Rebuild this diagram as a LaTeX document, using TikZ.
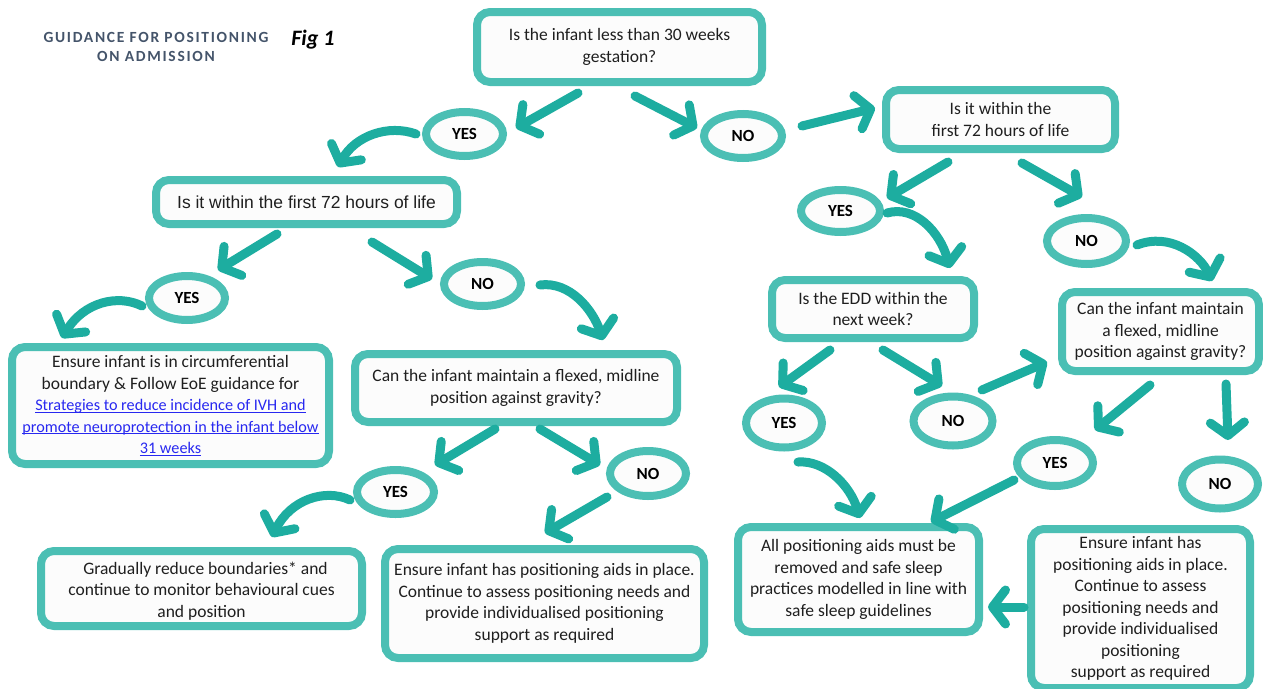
\documentclass[tikz,border=0pt]{standalone}
\usepackage{fontspec}
\setmainfont{Carlito}
\newfontfamily\arialf{Liberation Sans}
\usetikzlibrary{arrows.meta,shapes.geometric}
\definecolor{bordc}{RGB}{75,191,180}
\definecolor{arrc}{RGB}{29,173,160}
\definecolor{fillc}{RGB}{252,252,252}
\definecolor{titlec}{RGB}{68,84,106}
\definecolor{linkc}{RGB}{40,40,240}
\newcommand{\lnk}[1]{{\fontsize{16.2}{20}\selectfont\color{linkc}\setbox0\hbox{#1}\rlap{\rule[-2pt]{\wd0}{0.9pt}}\box0}}
\tikzset{
  box/.style={draw=bordc, line width=8pt, fill=fillc, rounded corners=13pt, inner sep=2pt, align=center, text=black!88, font=\fontsize{17.5}{21.5}\selectfont},
  oval/.style={draw=bordc, line width=8pt, fill=fillc, ellipse, inner sep=0pt, font=\fontsize{17}{20}\selectfont\bfseries},
  arr/.style={draw=arrc, line width=9pt, line cap=round, -{Straight Barb[length=13pt,width=34pt,line cap=round,line join=round]}}
}
\begin{document}
\begin{tikzpicture}[x=1pt,y=-1pt]
\useasboundingbox (0,0) rectangle (1263,688);
% title
\node[font=\fontsize{15.5}{19}\selectfont\bfseries\addfontfeatures{LetterSpace=11}, text=titlec, align=center] (title) at (156,47) {GUIDANCE FOR POSITIONING\\ON ADMISSION};
\node[font=\fontsize{22}{24}\selectfont\bfseries\itshape] (fig) at (313,40) {Fig 1};
% boxes
\node[box, minimum width=285pt, minimum height=70pt] (B0) at (619.5,47) {Is the infant less than 30 weeks\\gestation?};
\node[box, minimum width=301pt, minimum height=44pt, font=\arialf\fontsize{17.5}{21}\selectfont] (BL72) at (306.5,202) {Is it within the first 72 hours of life};
\node[box, minimum width=229pt, minimum height=59pt] (BR72) at (1000.5,119.5) {Is it within the\\first 72 hours of life};
\node[box, minimum width=317pt, minimum height=117pt] (BCirc) at (170.5,405.5) {Ensure infant is in circumferential\\boundary \& Follow EoE guidance for\\\lnk{Strategies to reduce incidence of IVH and}\\\lnk{promote neuroprotection in the infant below}\\\lnk{31 weeks}};
\node[box, minimum width=322pt, minimum height=68pt] (BCanL) at (516,388) {Can the infant maintain a flexed, midline\\position against gravity?};
\node[box, minimum width=321pt, minimum height=75pt] (BGrad) at (201.5,588.5) {\raisebox{0pt}[17pt][0pt]{}\hspace*{8pt}Gradually reduce boundaries* and\\continue to monitor behavioural cues\\and position};
\node[box, minimum width=319pt, minimum height=109pt] (BAidsM) at (544.5,603.5) {Ensure infant has positioning aids in place.\\Continue to assess positioning needs and\\provide individualised positioning\\support as required};
\node[box, minimum width=202pt, minimum height=58pt] (BEDD) at (873,309) {Is the EDD within the\\next week?};
\node[box, minimum width=197pt, minimum height=79pt] (BCanR) at (1160.5,331.5) {Can the infant maintain\\a flexed, midline\\position against gravity?};
\node[box, minimum width=241pt, minimum height=105pt] (BAll) at (858.5,579.5) {All positioning aids must be\\removed and safe sleep\\practices modelled in line with\\safe sleep guidelines};
\node[box, minimum width=219pt, minimum height=159pt] (BAidsR) at (1140.5,608.5) {Ensure infant has\\positioning aids in place.\\Continue to assess\\positioning needs and\\provide individualised\\positioning\\support as required};
% ovals
\node[oval, minimum width=77pt, minimum height=44pt] (Y1) at (464.5,134) {YES};
\node[oval, minimum width=78pt, minimum height=44pt] (N1) at (743,136) {NO};
\node[oval, minimum width=76pt, minimum height=44pt] (Y2) at (187,298) {YES};
\node[oval, minimum width=77pt, minimum height=44pt] (N2) at (482.5,284) {NO};
\node[oval, minimum width=77pt, minimum height=44pt] (Y3) at (395.5,492) {YES};
\node[oval, minimum width=76pt, minimum height=45pt] (N3) at (648,473.5) {NO};
\node[oval, minimum width=79pt, minimum height=42pt] (Y4) at (840.5,211) {YES};
\node[oval, minimum width=79pt, minimum height=46pt] (N4) at (1086.5,241) {NO};
\node[oval, minimum width=76pt, minimum height=49pt] (Y5) at (784,423) {YES};
\node[oval, minimum width=79pt, minimum height=49pt] (N5) at (953,421) {NO};
\node[oval, minimum width=76pt, minimum height=46pt] (Y6) at (1055,463) {YES};
\node[oval, minimum width=76pt, minimum height=49pt] (N6) at (1220,484) {NO};
% arrow end points
\coordinate (a1s) at (578,93);   \coordinate (a1e) at (516,128);
\coordinate (a2s) at (635,96);   \coordinate (a2e) at (697,128);
\coordinate (a3s) at (802,126);  \coordinate (a3e) at (875,108);
\coordinate (a4s) at (416,134);  \coordinate (a4e) at (338,167);
\coordinate (a5s) at (277,234);  \coordinate (a5e) at (218,270);
\coordinate (a6s) at (372,242);  \coordinate (a6e) at (432,279);
\coordinate (a7s) at (142,306);  \coordinate (a7e) at (62,338);
\coordinate (a8s) at (540,285);  \coordinate (a8e) at (603,340);
\coordinate (a9s) at (495,429);  \coordinate (a9e) at (435,465);
\coordinate (a10s) at (540,429); \coordinate (a10e) at (600,465);
\coordinate (a11s) at (350,500); \coordinate (a11e) at (272,537);
\coordinate (a12s) at (607,497); \coordinate (a12e) at (545,533);
\coordinate (a13s) at (948,162); \coordinate (a13e) at (887,198);
\coordinate (a14s) at (1022,163);\coordinate (a14e) at (1082,197);
\coordinate (a15s) at (887,213); \coordinate (a15e) at (950,268);
\coordinate (a16s) at (1137,245);\coordinate (a16e) at (1212,281);
\coordinate (a17s) at (830,350); \coordinate (a17e) at (779,387);
\coordinate (a18s) at (883,350); \coordinate (a18e) at (942,386);
\coordinate (a19s) at (982,390); \coordinate (a19e) at (1047,362);
\coordinate (a20s) at (1150,385);\coordinate (a20e) at (1095,430);
\coordinate (a21s) at (1226,384);\coordinate (a21e) at (1228,440);
\coordinate (a22s) at (798,462); \coordinate (a22e) at (860,518);
\coordinate (a23s) at (1014,480);\coordinate (a23e) at (931,522);
\coordinate (a24s) at (1024,607);\coordinate (a24e) at (988,607);
% arrows
\draw[arr] (a1s) -- (a1e);
\draw[arr] (a2s) -- (a2e);
\draw[arr] (a3s) -- (a3e);
\draw[arr] (a4s) .. controls (388,124) and (355,136) .. (a4e);
\draw[arr] (a5s) -- (a5e);
\draw[arr] (a6s) -- (a6e);
\draw[arr] (a7s) .. controls (118,294) and (84,302) .. (a7e);
\draw[arr] (a8s) .. controls (570,281) and (593,310) .. (a8e);
\draw[arr] (a9s) -- (a9e);
\draw[arr] (a10s) -- (a10e);
\draw[arr] (a11s) .. controls (325,488) and (290,500) .. (a11e);
\draw[arr] (a12s) -- (a12e);
\draw[arr] (a13s) -- (a13e);
\draw[arr] (a14s) -- (a14e);
\draw[arr] (a15s) .. controls (915,205) and (940,232) .. (a15e);
\draw[arr] (a16s) .. controls (1170,232) and (1200,255) .. (a16e);
\draw[arr] (a17s) -- (a17e);
\draw[arr] (a18s) -- (a18e);
\draw[arr] (a19s) -- (a19e);
\draw[arr] (a20s) -- (a20e);
\draw[arr] (a21s) -- (a21e);
\draw[arr] (a22s) .. controls (825,460) and (850,485) .. (a22e);
\draw[arr] (a23s) -- (a23e);
\draw[arr] (a24s) -- (a24e);
\end{tikzpicture}
\end{document}
